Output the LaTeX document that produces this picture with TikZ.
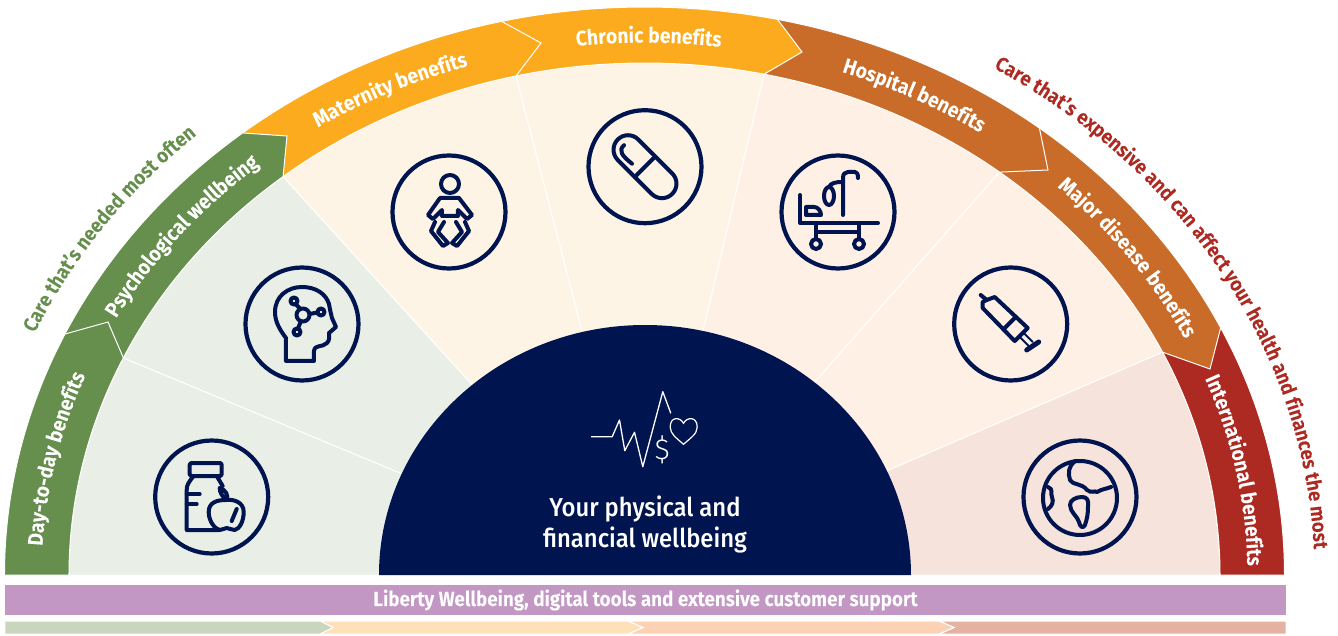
\documentclass[tikz,border=0pt]{standalone}
\usepackage{fontspec}
\setmainfont{Fira Sans}
\newfontfamily\medfont[FakeStretch=0.92]{Fira Sans Medium}
\newfontfamily\semifont[FakeStretch=0.92, FakeBold=0.3]{Fira Sans SemiBold}
\newfontfamily\thinfont{Fira Sans Light}
\usetikzlibrary{decorations.text, shapes.geometric}
\definecolor{navy}{HTML}{001450}
\definecolor{leaf}{HTML}{668F4E}
\definecolor{amber}{HTML}{FBAB1D}
\definecolor{rust}{HTML}{C96C2A}
\definecolor{brick}{HTML}{AC2A22}
\definecolor{lilac}{HTML}{C297C4}
\definecolor{leafpale}{HTML}{E9EFE6}
\definecolor{amberpale}{HTML}{FEF4E5}
\definecolor{rustpale}{HTML}{FFF0E6}
\definecolor{brickpale}{HTML}{F6E3DC}
\definecolor{stripa}{HTML}{C9D5BD}
\definecolor{stripb}{HTML}{FEE1B8}
\definecolor{stripc}{HTML}{FDD2B4}
\definecolor{stripd}{HTML}{E3B2A2}
\tikzstyle{iconring} = [circle, draw=navy, line width=4.2pt, minimum size=113pt, inner sep=0pt]
\tikzstyle{iconline} = [draw=navy, line width=4pt, line cap=round, line join=round]
\tikzstyle{hairline} = [draw=white, line width=1pt]
\tikzstyle{coretext} = [text=white, align=center, font=\medfont\fontsize{25.9}{31}\selectfont]
\tikzstyle{barlabel} = [fill=lilac, text=white, minimum width=1281pt, minimum height=30pt, inner sep=0pt, font=\semifont\fontsize{20.5}{20}\selectfont]
\begin{document}
\begin{tikzpicture}[x=1pt, y=1pt]
\useasboundingbox (-644.5,-60) rectangle (693.5,575);
% wedges behind the hub
\foreach \tfrom/\tto/\col in {180/154.9/leafpale, 154.9/128.9/leafpale, 128.9/102.9/amberpale, 102.9/78/amberpale, 78/51.9/rustpale, 51.9/25.8/rustpale, 25.8/0/brickpale}
  \filldraw[hairline, fill=\col] (0.5,0) -- (\tfrom:575.5 and 512) arc [start angle=\tfrom, end angle=\tto, x radius=575.5, y radius=512] -- cycle;
% band, drawn from the right so each tip lies on the next piece
\foreach \tfrom/\tto/\tipx/\tipy/\col in {25.8/0/575.5/0/brick, 51.9/25.8/565.5/206/rust, 78/51.9/403.5/405/rust, 102.9/78/157.5/523/amber, 128.9/102.9/-103.5/532/amber, 154.9/128.9/-357.5/439/leaf, 180/154.9/-536.5/253/leaf}
  \filldraw[hairline, fill=\col] (\tfrom:640 and 568) arc [start angle=\tfrom, end angle=\tto, x radius=640, y radius=568] -- (\tipx,\tipy) -- (\tto:575.5 and 512) arc [start angle=\tto, end angle=\tfrom, x radius=575.5, y radius=512] -- cycle;
\fill[navy] (-265.5,0) arc [start angle=180, end angle=0, x radius=266, y radius=250] -- cycle;
% band texts
\foreach \tmid/\tname in {167.8/Day-to-day benefits, 141.2/Psychological wellbeing, 115.5/Maternity benefits, 89.6/Chronic benefits, 62.9/Hospital benefits, 35.8/Major disease benefits, 11/International benefits}
  \path[decorate, decoration={text along path, text align=center, text color=white, text={|\semifont\fontsize{21}{20}\selectfont|\tname}}] ({\tmid+30}:603 and 532.5) arc [start angle=\tmid+30, end angle=\tmid-30, x radius=603, y radius=532.5];
\path[decorate, decoration={text along path, text align=center, text color=leaf, text={|\semifont\fontsize{20.3}{20}\selectfont|Care that’s needed most often}}] (174.7:668 and 593) arc [start angle=174.7, end angle=114.7, x radius=668, y radius=593];
\path[decorate, decoration={text along path, text align=center, text color=brick, text={|\semifont\fontsize{20.3}{20}\selectfont|Care that’s expensive and can affect your health and finances the most}}] (70:670 and 594) arc [start angle=70, end angle=-10, x radius=670, y radius=594];
% hub
\draw[white, line width=1.3pt, line join=round] (-53.3,138.3) -- (-32.3,138.3) -- (-25,155) -- (-19.7,124.3) -- (-10,142.7) -- (-1.7,108.3) -- (18.3,183.3) -- (26.3,161.7);
\draw[white, line width=1.2pt] (39,130.7) .. controls (32,137) and (25.7,141) .. (25.7,148) .. controls (25.7,159) and (36,158) .. (39,151.7) .. controls (42,158) and (52.7,159) .. (52.7,148) .. controls (52.7,141) and (46,137) .. (39,130.7) -- cycle;
\node (dollar) [text=white, font=\thinfont\fontsize{29}{30}\selectfont] at (17.7,125) {\$};
\node (coreLabel) [coretext] at (0.5,51) {Your physical and\\financial wellbeing};
% bars
\node (supportBar) [barlabel] at (1,-25) {Liberty Wellbeing, digital tools and extensive customer support};
\filldraw[hairline, fill=stripd] (641.5,-46) -- (294.5,-46) -- (309.5,-52.5) -- (294.5,-59) -- (641.5,-59) -- cycle;
\filldraw[hairline, fill=stripc] (309.5,-52.5) -- (294.5,-46) -- (-16.5,-46) -- (-1.5,-52.5) -- (-16.5,-59) -- (294.5,-59) -- cycle;
\filldraw[hairline, fill=stripb] (-1.5,-52.5) -- (-16.5,-46) -- (-324.5,-46) -- (-311.5,-52.5) -- (-324.5,-59) -- (-16.5,-59) -- cycle;
\filldraw[hairline, fill=stripa] (-639.5,-46) -- (-324.5,-46) -- (-311.5,-52.5) -- (-324.5,-59) -- (-639.5,-59) -- cycle;
% icon rings
\node (ringApple) [iconring] at (-432.8,78) {};
\node (ringHead) [iconring] at (-342.5,251) {};
\node (ringBaby) [iconring] at (-195.5,363) {};
\node (ringPill) [iconring] at (0.5,408.3) {};
\node (ringBed) [iconring] at (193.5,363) {};
\node (ringNeedle) [iconring] at (366.2,251) {};
\node (ringGlobe) [iconring] at (435.5,78) {};
% bottle and apple
\begin{scope}[shift={(ringApple.center)}, every path/.style={iconline}]
\draw[rounded corners=1.5pt] (-22,21) rectangle (10,34);
\draw (-18,21) .. controls (-23,15) and (-25,12) .. (-25,7) -- (-25,-33) -- (7,-33);
\draw (5,21) -- (11,11);
\draw (-25,3) -- (-12,3);
\draw (-25,-7) -- (-15,-7);
\draw (8,9) .. controls (14,7) and (17,2) .. (15,-3) .. controls (11,0) and (8,4) .. (8,9);
\draw (14,-3) .. controls (6,-3) and (-3,-5) .. (-3,-15) .. controls (-3,-24) and (3,-32) .. (8,-33) .. controls (11,-33) and (13,-31) .. (15,-31) .. controls (17,-31) and (20,-33) .. (23,-33) .. controls (28,-32) and (32,-24) .. (32,-15) .. controls (32,-5) and (22,-2) .. (14,-3);
\draw (25,-12) -- (20,-24);
\end{scope}
% head and network
\begin{scope}[shift={(ringHead.center)}, every path/.style={iconline}]
\draw (-16,-37) -- (-16,-14) .. controls (-22,-6) and (-27,2) .. (-27,12) .. controls (-27,28) and (-14,37) .. (0,37) .. controls (14,37) and (24,30) .. (27,20) .. controls (28,14) and (29,10) .. (30,6) -- (34,-3) -- (27,-9) .. controls (27,-13) and (28,-16) .. (25,-19) .. controls (20,-24) and (13,-20) .. (12,-27) -- (12,-37) -- cycle;
\draw (1,9) circle (6.5);
\draw (-8,23) circle (3.5);
\draw (19,12) circle (3.5);
\draw (-5,-8) circle (3.5);
\draw (-1.5,15) -- (-6.5,20);
\draw (7.5,10) -- (15.5,11.5);
\draw (-1,3) -- (-4,-4.5);
\end{scope}
% baby
\begin{scope}[shift={(ringBaby.center)}, every path/.style={iconline}]
\draw (1,28) circle (9);
\draw (-7,2) -- (-16,-7) -- (-21,-3) -- (-9,14) -- (10,14) -- (23,-3) -- (18,-7) -- (9,2) -- (9,-4) -- (-7,-4) -- cycle;
\draw (-14,-10) -- (-18,-19) -- (-6,-34) -- (-1,-31) -- (-11,-20) -- (-5,-10);
\draw (16,-10) -- (20,-19) -- (8,-34) -- (3,-31) -- (13,-20) -- (7,-10);
\end{scope}
% capsule
\begin{scope}[shift={(ringPill.center)}, every path/.style={iconline}]
\draw[rotate=-45] (-24,14.5) -- (24,14.5) arc [start angle=90, end angle=-90, radius=14.5] -- (-24,-14.5) arc [start angle=270, end angle=90, radius=14.5] -- cycle;
\draw (-9.5,-9.5) -- (8.5,8.5);
\draw (-21,21.5) .. controls (-27,16) and (-23,11) .. (-13,3);
\end{scope}
% bed and drip
\begin{scope}[shift={(ringBed.center)}, every path/.style={iconline}]
\draw (-38,17) -- (-38,-11) -- (40,-11);
\draw (-22,-11) -- (-22,-27);
\draw (21,-11) -- (21,-27);
\draw (-22,-20) -- (21,-20);
\draw (-22,-32) circle (5);
\draw (21,-32) circle (5);
\draw (-32,5) -- (-32,-3) -- (-17,-3) .. controls (-17,1) and (-20,5) .. (-24,5) -- cycle;
\draw (5,-3) -- (5,34) .. controls (5,38) and (7,40) .. (10,40) -- (17,40) .. controls (19,40) and (20,38) .. (20,34);
\draw (-9,16) ellipse (5 and 9);
\draw (-9,25) .. controls (-7,29) and (-3,30) .. (5,30);
\end{scope}
% syringe
\begin{scope}[shift={(ringNeedle.center)}, every path/.style={iconline}]
\draw (-30,29) -- (-24,24);
\draw (-24,24) -- (-16,27) -- (17,-4) -- (4,-17) -- (-28,16) -- (-28,22) -- cycle;
\draw (-7,-5) -- (5,7);
\draw[line width=2pt] (9,-13) -- (18,-22);
\draw[line width=2pt] (13,-9) -- (22,-18);
\draw[line width=5pt] (16,-26) -- (28,-18);
\end{scope}
% globe
\begin{scope}[shift={(ringGlobe.center)}, every path/.style={iconline}]
\draw (0,-1) circle (37);
\draw (-5,36) .. controls (-12,30) and (-12,24) .. (-10,17) .. controls (-8,12) and (2,14) .. (7,7) .. controls (12,3) and (15,7) .. (17,5) .. controls (22,8) and (26,8) .. (31,10);
\draw (-10,-8) .. controls (-10,-3) and (-4,0) .. (2,0) .. controls (7,0) and (9,-3) .. (8,-10) .. controls (8,-17) and (7,-22) .. (5,-28) .. controls (3,-32) and (0,-30) .. (-1,-25) .. controls (-2,-20) and (-10,-15) .. (-10,-8) -- cycle;
\draw (-32,10) .. controls (-26,8) and (-30,3) .. (-28,0) .. controls (-26,-5) and (-28,-9) .. (-32,-12);
\end{scope}
\end{tikzpicture}
\end{document}
